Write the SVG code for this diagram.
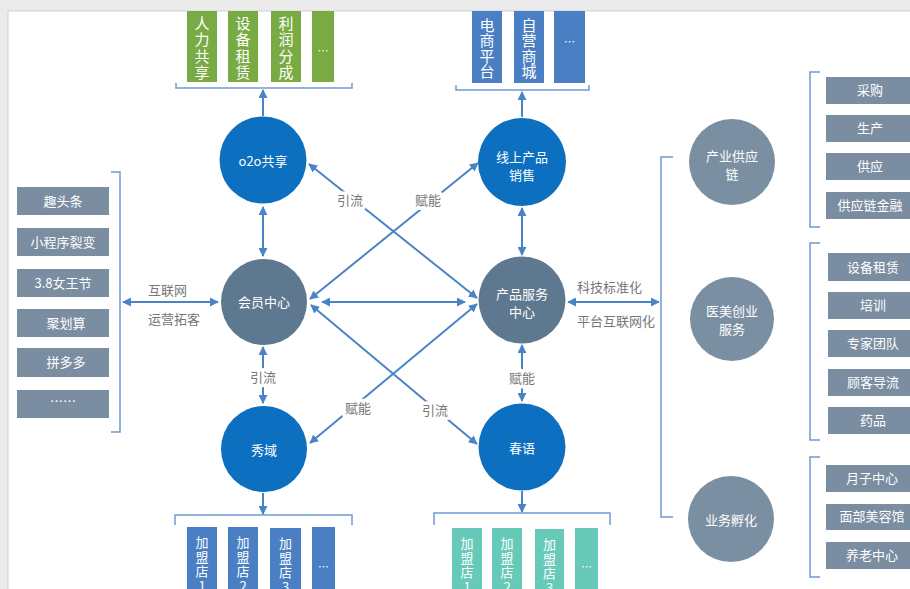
<svg xmlns="http://www.w3.org/2000/svg" width="910" height="589" viewBox="0 0 910 589">
  <defs>
    <marker id="arr" viewBox="0 0 10 10" refX="9" refY="5" markerWidth="4.5" markerHeight="4.5" orient="auto-start-reverse">
      <path d="M0,0 L10,5 L0,10 z" fill="#4a84c6"/>
    </marker>
    <style>
      text { font-family: "Noto Sans CJK SC", "Noto Sans", sans-serif; }
      .blue { fill: #0d6fbf; }
      .core { fill: #5e7890; }
      .side { fill: #7b8fa3; }
      .ctext { fill: #ffffff; font-size: 13px; text-anchor: middle; }
      .box { fill: #7a8da1; }
      .btext { fill: #ffffff; font-size: 13px; text-anchor: middle; }
      .green { fill: #79ab45; }
      .bar { fill: #4a80c3; }
      .teal { fill: #67cab8; }
      .vt { fill: #ffffff; writing-mode: vertical-rl; text-orientation: upright; }
      .vtop { font-size: 15px; letter-spacing: 1.5px; }
      .vtop2 { font-size: 15px; letter-spacing: 0.5px; }
      .vbot { font-size: 13px; letter-spacing: 1.5px; }
      .dots { fill: #ffffff; font-size: 11px; text-anchor: middle; }
      .link { stroke: #4a84c6; stroke-width: 2; fill: none; }
      .bracket { stroke: #6d9bd4; stroke-width: 1.5; fill: none; }
      .lbl { fill: #777777; font-size: 13px; text-anchor: middle; stroke: #ffffff; stroke-width: 7px; paint-order: stroke; stroke-linejoin: round; }
      .lbl2 { fill: #777777; font-size: 13px; }
    </style>
  </defs>

  <!-- page -->
  <rect x="0" y="0" width="910" height="589" fill="#ebebeb"/>
  <rect x="8" y="11" width="920" height="600" fill="#ffffff" stroke="#d2d2d2" stroke-width="1"/>

  <!-- connectors -->
  <g id="connectors">
    <line class="link" x1="263" y1="207" x2="263" y2="256" marker-start="url(#arr)" marker-end="url(#arr)"/>
    <line class="link" x1="522" y1="208" x2="522" y2="255" marker-start="url(#arr)" marker-end="url(#arr)"/>
    <line class="link" x1="263" y1="347" x2="263" y2="403" marker-start="url(#arr)" marker-end="url(#arr)"/>
    <line class="link" x1="522" y1="345" x2="522" y2="401" marker-start="url(#arr)" marker-end="url(#arr)"/>
    <line class="link" x1="322" y1="302" x2="465" y2="302" marker-start="url(#arr)" marker-end="url(#arr)"/>
    <line class="link" x1="310" y1="299" x2="478" y2="163" marker-start="url(#arr)" marker-end="url(#arr)"/>
    <line class="link" x1="309" y1="164" x2="477" y2="298" marker-start="url(#arr)" marker-end="url(#arr)"/>
    <line class="link" x1="311" y1="305" x2="477" y2="444" marker-start="url(#arr)" marker-end="url(#arr)"/>
    <line class="link" x1="477" y1="304" x2="310" y2="443" marker-start="url(#arr)" marker-end="url(#arr)"/>
    <line class="link" x1="263" y1="116" x2="263" y2="90" marker-end="url(#arr)"/>
    <line class="link" x1="522" y1="117" x2="522" y2="92" marker-end="url(#arr)"/>
    <line class="link" x1="263" y1="493" x2="263" y2="514" marker-end="url(#arr)"/>
    <line class="link" x1="522" y1="491" x2="522" y2="512" marker-end="url(#arr)"/>
    <line class="link" x1="123" y1="302" x2="218" y2="302" marker-start="url(#arr)" marker-end="url(#arr)"/>
    <line class="link" x1="568" y1="302" x2="659" y2="302" marker-start="url(#arr)" marker-end="url(#arr)"/>

    <!-- brackets -->
    <path class="bracket" d="M176,83 V88 H352 V83"/>
    <path class="bracket" d="M456,85 V90 H589 V85"/>
    <path class="bracket" d="M175,525 V515 H352 V525"/>
    <path class="bracket" d="M434,525 V513 H610 V525"/>
    <path class="bracket" d="M111,172 H120 V432 H111"/>
    <path class="bracket" d="M673,157 H661 V517 H673"/>
    <path class="bracket" d="M820,72 H810 V227 H820"/>
    <path class="bracket" d="M820,243 H810 V440 H820"/>
    <path class="bracket" d="M820,457 H810 V577 H820"/>

    <!-- connector labels -->
    <text class="lbl" x="350" y="205">引流</text>
    <text class="lbl" x="428" y="205">赋能</text>
    <text class="lbl" x="358" y="413">赋能</text>
    <text class="lbl" x="435" y="415">引流</text>
    <text class="lbl" x="263" y="382">引流</text>
    <text class="lbl" x="522" y="383">赋能</text>
    <text class="lbl2" x="148" y="295">互联网</text>
    <text class="lbl2" x="148" y="324">运营拓客</text>
    <text class="lbl2" x="577" y="292">科技标准化</text>
    <text class="lbl2" x="577" y="326">平台互联网化</text>
  </g>

  <!-- hub circles -->
  <g id="node-o2o">
    <circle class="blue" cx="263" cy="160" r="43.5"/>
    <text class="ctext" x="263" y="166">o2o共享</text>
  </g>
  <g id="node-online">
    <circle class="blue" cx="522" cy="162" r="44"/>
    <text class="ctext" x="522" y="162">线上产品</text>
    <text class="ctext" x="522" y="180">销售</text>
  </g>
  <g id="node-member">
    <circle class="core" cx="264" cy="302" r="43"/>
    <text class="ctext" x="264" y="307">会员中心</text>
  </g>
  <g id="node-product">
    <circle class="core" cx="522" cy="300" r="43.5"/>
    <text class="ctext" x="522" y="299">产品服务</text>
    <text class="ctext" x="522" y="317">中心</text>
  </g>
  <g id="node-xiuyu">
    <circle class="blue" cx="264" cy="449" r="43"/>
    <text class="ctext" x="264" y="455">秀域</text>
  </g>
  <g id="node-chunyu">
    <circle class="blue" cx="522" cy="447" r="43.5"/>
    <text class="ctext" x="522" y="453">春语</text>
  </g>

  <!-- right-side circles -->
  <g id="node-supply">
    <circle class="side" cx="732" cy="162" r="43"/>
    <text class="ctext" x="732" y="161">产业供应</text>
    <text class="ctext" x="732" y="179">链</text>
  </g>
  <g id="node-medical">
    <circle class="side" cx="732" cy="319" r="42"/>
    <text class="ctext" x="732" y="316">医美创业</text>
    <text class="ctext" x="732" y="334">服务</text>
  </g>
  <g id="node-incubate">
    <circle class="side" cx="731" cy="519" r="43"/>
    <text class="ctext" x="731" y="525">业务孵化</text>
  </g>

  <!-- top-left bars -->
  <g id="bars-o2o">
    <rect class="green" x="187" y="11" width="30" height="71"/>
    <text class="vt vtop" x="202" y="15.5">人力共享</text>
    <rect class="green" x="228" y="11" width="30" height="71"/>
    <text class="vt vtop" x="243" y="15.5">设备租赁</text>
    <rect class="green" x="271" y="11" width="30" height="71"/>
    <text class="vt vtop" x="286" y="15.5">利润分成</text>
    <rect class="green" x="312" y="11" width="22" height="71"/>
    <text class="dots" x="323" y="55">…</text>
  </g>

  <!-- top-right bars -->
  <g id="bars-online">
    <rect class="bar" x="472" y="11" width="30" height="72"/>
    <text class="vt vtop2" x="487" y="17.5">电商平台</text>
    <rect class="bar" x="514" y="11" width="30" height="72"/>
    <text class="vt vtop2" x="529" y="17.5">自营商城</text>
    <rect class="bar" x="554" y="11" width="31" height="72"/>
    <text class="dots" x="569.5" y="46">…</text>
  </g>

  <!-- bottom-left bars -->
  <g id="bars-xiuyu">
    <rect class="bar" x="187" y="527" width="30" height="70"/>
    <text class="vt vbot" x="202" y="536">加盟店1</text>
    <rect class="bar" x="228" y="527" width="30" height="70"/>
    <text class="vt vbot" x="243" y="536">加盟店2</text>
    <rect class="bar" x="270" y="528" width="31" height="70"/>
    <text class="vt vbot" x="285.5" y="537">加盟店3</text>
    <rect class="bar" x="312" y="527" width="23" height="70"/>
    <text class="dots" x="323.5" y="571">…</text>
  </g>

  <!-- bottom-right bars -->
  <g id="bars-chunyu">
    <rect class="teal" x="452" y="528" width="30" height="70"/>
    <text class="vt vbot" x="467" y="537">加盟店1</text>
    <rect class="teal" x="492" y="528" width="30" height="70"/>
    <text class="vt vbot" x="507" y="537">加盟店2</text>
    <rect class="teal" x="535" y="529" width="29" height="70"/>
    <text class="vt vbot" x="549.5" y="538">加盟店3</text>
    <rect class="teal" x="575" y="528" width="23" height="70"/>
    <text class="dots" x="586.5" y="571">…</text>
  </g>

  <!-- left channel list -->
  <g id="list-channels">
    <rect class="box" x="17" y="187" width="92" height="28"/>
    <text class="btext" x="63" y="206">趣头条</text>
    <rect class="box" x="17" y="228" width="92" height="28"/>
    <text class="btext" x="63" y="247">小程序裂变</text>
    <rect class="box" x="17" y="269" width="92" height="28"/>
    <text class="btext" x="63" y="288">3.8女王节</text>
    <rect class="box" x="17" y="309" width="92" height="28"/>
    <text class="btext" x="66" y="328">聚划算</text>
    <rect class="box" x="17" y="348" width="92" height="29"/>
    <text class="btext" x="66" y="367">拼多多</text>
    <rect class="box" x="17" y="390" width="92" height="28"/>
    <text class="btext" x="63" y="406">……</text>
  </g>

  <!-- supply chain list -->
  <g id="list-supply">
    <rect class="box" x="826" y="77" width="90" height="27"/>
    <text class="btext" x="870" y="95">采购</text>
    <rect class="box" x="826" y="115" width="90" height="27"/>
    <text class="btext" x="870" y="133">生产</text>
    <rect class="box" x="826" y="153" width="90" height="27"/>
    <text class="btext" x="870" y="171">供应</text>
    <rect class="box" x="826" y="192" width="90" height="27"/>
    <text class="btext" x="870" y="210">供应链金融</text>
  </g>

  <!-- medical service list -->
  <g id="list-medical">
    <rect class="box" x="828" y="253" width="90" height="28"/>
    <text class="btext" x="873" y="272">设备租赁</text>
    <rect class="box" x="828" y="292" width="90" height="27"/>
    <text class="btext" x="873" y="310">培训</text>
    <rect class="box" x="828" y="330" width="90" height="27"/>
    <text class="btext" x="873" y="348">专家团队</text>
    <rect class="box" x="828" y="369" width="90" height="27"/>
    <text class="btext" x="873" y="387">顾客导流</text>
    <rect class="box" x="828" y="407" width="90" height="27"/>
    <text class="btext" x="873" y="425">药品</text>
  </g>

  <!-- incubation list -->
  <g id="list-incubate">
    <rect class="box" x="826" y="465" width="90" height="27"/>
    <text class="btext" x="872" y="483">月子中心</text>
    <rect class="box" x="826" y="504" width="90" height="26"/>
    <text class="btext" x="872" y="521">面部美容馆</text>
    <rect class="box" x="826" y="542" width="90" height="27"/>
    <text class="btext" x="872" y="560">养老中心</text>
  </g>
</svg>
